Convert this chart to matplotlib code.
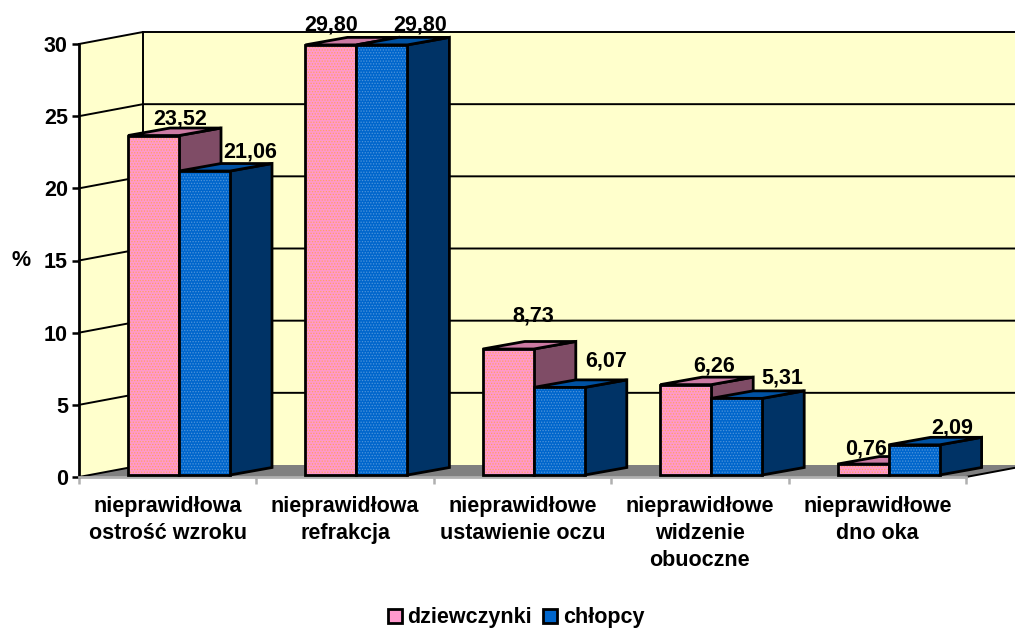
import matplotlib
matplotlib.use("Agg")
import matplotlib.pyplot as plt
from matplotlib.patches import Patch, Polygon

categories = [
    "nieprawidłowa\nostrość wzroku",
    "nieprawidłowa\nrefrakcja",
    "nieprawidłowe\nustawienie oczu",
    "nieprawidłowe\nwidzenie\nobuoczne",
    "nieprawidłowe\ndno oka",
]
dziewczynki = [23.52, 29.80, 8.73, 6.26, 0.76]
chlopcy = [21.06, 29.80, 6.07, 5.31, 2.09]
y_ticks = [0, 5, 10, 15, 20, 25, 30]

# label offsets in pixels from top centre of each bar, set by eye
girls_offsets = [(27, 17), (0, 20), (25, 33), (28, 19), (3, 15)]
boys_offsets = [(46, 19), (38, 20), (47, 26), (46, 20), (38, 17)]

W, H = 1015, 629
X0, X1 = 79, 966
Y0, Y30 = 477, 44
PX_X = (X1 - X0) / 5
PX_Y = (Y0 - Y30) / 30

WALL_DX = 64 / PX_X
WALL_DY = 12 / PX_Y
BAR_LEFT = 49 / PX_X
BAR_W = 51 / PX_X
BAR_DX = 42 / PX_X
BAR_DY = 7.5 / PX_Y
BAR_LIFT = 2 / PX_Y

PINK = ("#FF99CC", "#CC7AA3", "#7F4C66")
BLUE = ("#0066CC", "#0052A3", "#003366")
DOTS = ("#FFA060", "#4D94DB")

plt.rcParams["font.family"] = ["Liberation Sans", "DejaVu Sans"]
plt.rcParams["font.weight"] = "bold"
plt.rcParams["font.size"] = 15.5
plt.rcParams["hatch.linewidth"] = 0.6


def poly(ax, pts, color, edge="black", lw=2.0, z=3):
    ax.add_patch(Polygon(pts, closed=True, facecolor=color, edgecolor=edge,
                         linewidth=lw, zorder=z, clip_on=False))


def draw_bar(ax, x, value, colors, dots, z):
    y0 = BAR_LIFT
    y1 = value + BAR_LIFT
    x1 = x + BAR_W
    poly(ax, [(x1, y0), (x1, y1), (x1 + BAR_DX, y1 + BAR_DY), (x1 + BAR_DX, y0 + BAR_DY)],
         colors[2], z=z)
    poly(ax, [(x, y1), (x1, y1), (x1 + BAR_DX, y1 + BAR_DY), (x + BAR_DX, y1 + BAR_DY)],
         colors[1], z=z)
    ax.add_patch(Polygon([(x, y0), (x1, y0), (x1, y1), (x, y1)], closed=True,
                         facecolor=colors[0], edgecolor=dots, hatch="......",
                         linewidth=0, zorder=z, clip_on=False))
    poly(ax, [(x, y0), (x1, y0), (x1, y1), (x, y1)], "none", z=z)


def main():
    fig = plt.figure(figsize=(W / 100, H / 100), dpi=100)
    ax = fig.add_axes([X0 / W, 1 - Y0 / H, (X1 - X0) / W, (Y0 - Y30) / H])
    ax.set_xlim(0, 5)
    ax.set_ylim(0, 30)
    ax.patch.set_visible(False)
    for side in ax.spines.values():
        side.set_visible(False)

    # walls and floor
    poly(ax, [(0, 0), (0, 30), (WALL_DX, 30 + WALL_DY), (WALL_DX, WALL_DY)], "#FFFFCC", edge="none", z=0)
    poly(ax, [(WALL_DX, WALL_DY), (WALL_DX, 30 + WALL_DY), (5 + WALL_DX, 30 + WALL_DY), (5 + WALL_DX, WALL_DY)],
         "#FFFFCC", edge="none", z=0)
    poly(ax, [(0, 0), (5, 0), (5 + WALL_DX, WALL_DY), (WALL_DX, WALL_DY)], "#808080", edge="none", z=1)

    for v in y_ticks[1:]:
        ax.plot([0, WALL_DX, 5 + WALL_DX], [v, v + WALL_DY, v + WALL_DY],
                color="black", lw=1.4, zorder=2, clip_on=False)
    ax.plot([0, WALL_DX], [0, WALL_DY], color="black", lw=1.4, zorder=2, clip_on=False)
    ax.plot([5, 5 + WALL_DX], [0, WALL_DY], color="black", lw=1.4, zorder=2, clip_on=False)
    ax.plot([WALL_DX, WALL_DX], [WALL_DY, 30 + WALL_DY], color="black", lw=1.4, zorder=2, clip_on=False)
    ax.plot([0, 0], [0, 30], color="black", lw=2.0, zorder=2, clip_on=False)
    ax.plot([0, 5], [0, 0], color="#B0B0B0", lw=2.0, zorder=2, clip_on=False)

    # bars, back to front is just left to right here
    for i in range(len(categories)):
        draw_bar(ax, i + BAR_LEFT, dziewczynki[i], PINK, DOTS[0], 3 + 2 * i)
        draw_bar(ax, i + BAR_LEFT + BAR_W, chlopcy[i], BLUE, DOTS[1], 4 + 2 * i)

    for i in range(len(categories)):
        for value, off, shift in [(dziewczynki[i], girls_offsets[i], 0.5),
                                  (chlopcy[i], boys_offsets[i], 1.5)]:
            ax.annotate(f"{value:.2f}".replace(".", ","),
                        (i + BAR_LEFT + shift * BAR_W, value + BAR_LIFT),
                        xytext=off, textcoords="offset pixels",
                        ha="center", va="center", zorder=20, annotation_clip=False)

    # axes
    ax.set_yticks(y_ticks)
    ax.tick_params(axis="y", length=5, width=1.8, color="black", pad=3)
    ax.set_xticks(range(6))
    ax.set_xticklabels([])
    ax.tick_params(axis="x", length=5, width=1.8, color="#B0B0B0")
    ax.set_xticks([i + 0.5 for i in range(5)], minor=True)
    ax.set_xticklabels(categories, minor=True, linespacing=1.36, va="top")
    ax.tick_params(axis="x", which="minor", length=0, pad=14)

    fig.text(21 / W, 1 - 260 / H, "%", ha="center", va="center")

    handles = [
        Patch(facecolor=PINK[0], edgecolor="black", linewidth=2.0, label="dziewczynki"),
        Patch(facecolor=BLUE[0], edgecolor="black", linewidth=2.0, label="chłopcy"),
    ]
    fig.legend(handles=handles, ncol=2, frameon=False, loc="center",
               bbox_to_anchor=(516 / W, 1 - 618 / H), handlelength=0.65, handleheight=0.65,
               handletextpad=0.25, columnspacing=0.55, borderpad=0, borderaxespad=0)

    fig.savefig("out.png", dpi=100)
    plt.close(fig)


if __name__ == "__main__":
    main()
